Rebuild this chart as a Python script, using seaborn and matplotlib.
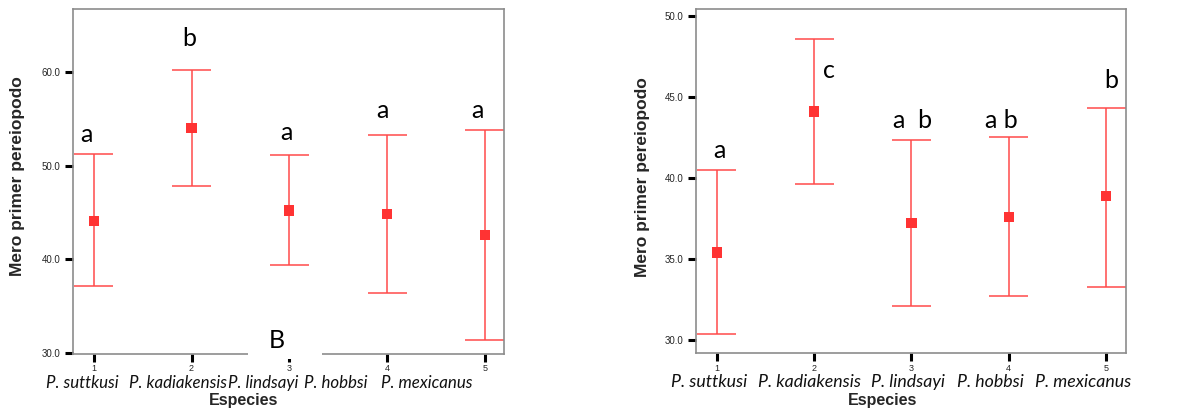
import matplotlib
matplotlib.use("Agg")
import matplotlib.pyplot as plt
import seaborn as sns
import pandas as pd
from matplotlib.patches import Rectangle

# Species and group positions
positions = [1, 2, 3, 4, 5]
species = ["P. suttkusi", "P. kadiakensis", "P. lindsayi", "P. hobbsi", "P. mexicanus"]

# Panel A: means with lower/upper interval limits
left_mean = [44.1, 54.0, 45.2, 44.8, 42.6]
left_low = [37.1, 47.8, 39.4, 36.4, 31.3]
left_high = [51.2, 60.2, 51.1, 53.3, 53.8]
left_letters = ["a", "b", "a", "a", "a"]

# Panel B: means with lower/upper interval limits
right_mean = [35.4, 44.1, 37.2, 37.6, 38.9]
right_low = [30.35, 39.65, 32.1, 32.7, 33.3]
right_high = [40.5, 48.6, 42.35, 42.55, 44.3]
right_letters = ["a", "c", "a  b", "a b", "b"]

sns.set_theme(style="white")
plt.rcParams["font.family"] = ["Liberation Sans", "DejaVu Sans"]

W, H = 1183, 412
fig = plt.figure(figsize=(W / 100, H / 100), dpi=100)

def fx(px):
    return px / W

def fy(py):
    return 1 - py / H

bar_color = "#ff4a4a"
marker_color = "#ff3333"
spine_color = "#8c8c8c"


def panel(box, means, lows, highs, ylim, yticks, xlim):
    ax = fig.add_axes([fx(box[0]), fy(box[3]), fx(box[2] - box[0]), (box[3] - box[1]) / H])
    df = pd.DataFrame({"pos": positions, "mean": means, "low": lows, "high": highs})
    ax.vlines(df["pos"], df["low"], df["high"], color=bar_color, lw=1.1, zorder=2)
    ax.hlines(df["low"], df["pos"] - 0.2, df["pos"] + 0.2, color=bar_color, lw=1.1, zorder=2)
    ax.hlines(df["high"], df["pos"] - 0.2, df["pos"] + 0.2, color=bar_color, lw=1.1, zorder=2)
    sns.scatterplot(data=df, x="pos", y="mean", marker="s", s=55, color=marker_color,
                    edgecolor="none", ax=ax, zorder=3, legend=False)
    ax.set_xlim(*xlim)
    ax.set_ylim(*ylim)
    ax.set_xticks(positions)
    ax.set_xticklabels([str(p) for p in positions])
    ax.set_yticks(yticks)
    ax.set_yticklabels([f"{t:.1f}" for t in yticks])
    ax.tick_params(axis="both", direction="out", length=6, width=2.2, color="black",
                   labelsize=7, pad=2, left=True, bottom=True)
    ax.tick_params(axis="x", labelsize=6.5, pad=1.5)
    ax.tick_params(axis="y", pad=3)
    for s in ax.spines.values():
        s.set_color(spine_color)
        s.set_linewidth(1.2)
    ax.set_xlabel("")
    ax.set_ylabel("")
    ax.grid(False)
    return ax


axL = panel((72.7, 9.3, 504, 354), left_mean, left_low, left_high,
            (29.85, 66.7), [30, 40, 50, 60], (0.785, 5.195))
axR = panel((696, 9.3, 1126, 353.3), right_mean, right_low, right_high,
            (29.18, 50.41), [30, 35, 40, 45, 50], (0.787, 5.205))

letter_font = dict(family=["Lato", "DejaVu Sans"], fontsize=18, color="black")
italic_base = dict(family=["Lato", "DejaVu Sans"], style="italic", color="#111111")
label_font = dict(family=["Liberation Sans", "DejaVu Sans"], fontweight="bold")

# Significance letters (pixel positions of letter centres)
left_letter_px = [(86.7, 134), (189, 39), (286, 132), (382.3, 110), (477.7, 110)]
right_letter_px = [(719, 150), (829, 71), (913, 120), (1001, 120), (1111, 81)]
for (x, y), t in zip(left_letter_px, left_letters):
    fig.text(fx(x), fy(y), t, ha="center", va="center", **letter_font)
for (x, y), t in zip(right_letter_px, right_letters):
    fig.text(fx(x), fy(y), t, ha="center", va="center", **letter_font)

# White patch with "B" over the lower axis of the left panel
fig.patches.append(Rectangle((fx(248), fy(359)), fx(322) - fx(248), fy(322) - fy(359),
                             transform=fig.transFigure, facecolor="white",
                             edgecolor="none", zorder=10))
fig.text(fx(276.7), fy(340), "B", ha="center", va="center", zorder=11, **letter_font)

# Species names below the tick numbers
left_sp_px = [82.5, 178, 263, 336, 427]
right_sp_px = [709, 809, 908, 990, 1083]
for x, s in zip(left_sp_px, species):
    fig.text(fx(x), fy(383), s, ha="center", va="center", fontsize=12.2, **italic_base)
for x, s in zip(right_sp_px, species):
    fig.text(fx(x), fy(382), s, ha="center", va="center", fontsize=12.8, **italic_base)

# Axis titles
fig.text(fx(244), fy(401), "Especies", ha="center", va="center", fontsize=11.5, **label_font)
fig.text(fx(883), fy(401), "Especies", ha="center", va="center", fontsize=11.5, **label_font)
fig.text(fx(18), fy(176), "Mero primer pereiopodo", ha="center", va="center",
         rotation=90, fontsize=12.5, **label_font)
fig.text(fx(642), fy(177), "Mero primer pereiopodo", ha="center", va="center",
         rotation=90, fontsize=12.5, **label_font)

fig.savefig("out.png", dpi=100, facecolor="white")
